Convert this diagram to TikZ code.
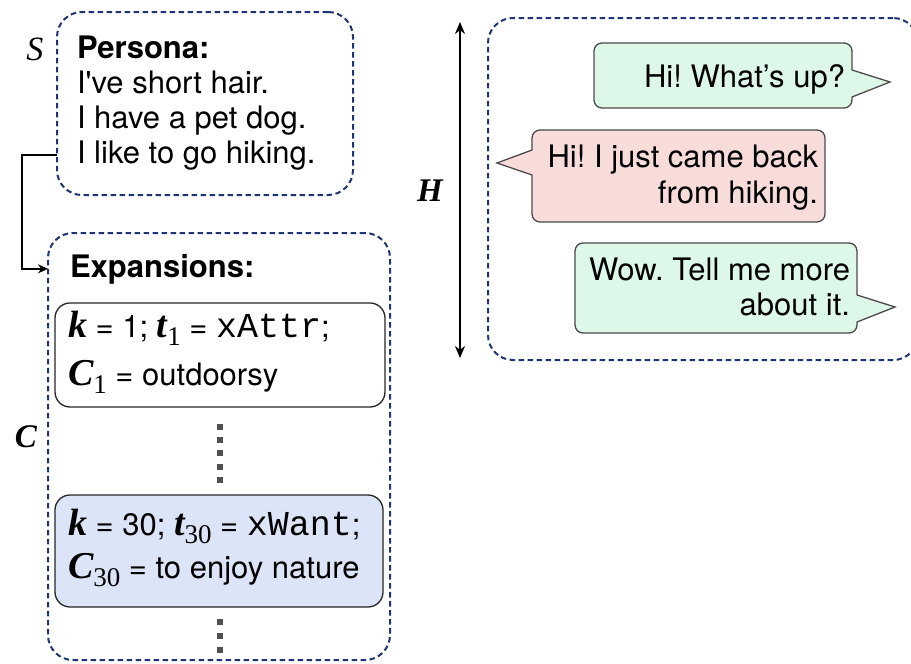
\documentclass[tikz,border=0pt]{standalone}
\usepackage{fontspec}
\setmainfont{TeX Gyre Heros}
\newfontfamily\serifit{Liberation Serif}
\newfontfamily\codefont{Liberation Mono}
\usetikzlibrary{arrows.meta}
\frenchspacing

\definecolor{navy}{HTML}{1F3474}
\definecolor{usergreen}{HTML}{DDF7E9}
\definecolor{botpink}{HTML}{F8DCDA}
\definecolor{expblue}{HTML}{DCE5F8}
\definecolor{dotgray}{HTML}{505050}
\definecolor{bubbleline}{HTML}{4A4A4A}

% italic serif symbols and their subscripts
\newcommand\mv[1]{{\serifit\bfseries\itshape\fontsize{38}{38}\selectfont #1}}
\newcommand\msub[1]{\raisebox{-8pt}{\serifit\fontsize{27}{27}\selectfont #1}}
\newcommand\code[1]{{\codefont\fontsize{35}{35}\selectfont #1}}

\tikzset{
  txt/.style={inner sep=0pt, outer sep=0pt, font=\fontsize{31}{35}\selectfont},
  lbl/.style={inner sep=0pt, font=\serifit\bfseries\itshape\fontsize{33}{33}\selectfont},
  groupbox/.style={draw=navy, line width=2pt, dash pattern=on 5.5pt off 3.5pt,
    rounded corners=25pt, inner sep=0pt, outer sep=0pt},
  expbox/.style={draw=black!85, line width=1.3pt, rounded corners=15pt,
    inner sep=0pt, outer sep=0pt},
  bubble/.style={draw=bubbleline, line width=1.3pt, rounded corners=8pt},
  conn/.style={line width=1.8pt, -{Stealth[length=10pt,width=9pt]}},
}

\begin{document}
\begin{tikzpicture}[x=1pt, y=-1pt]
\useasboundingbox (0,0) rectangle (911,664);
\begin{scope}
\clip (0,0) rectangle (911,664);

% ---- persona group ----
\node[groupbox, minimum width=296pt, minimum height=183pt] (persona) at (205,103.5) {};
\node[lbl, font=\serifit\itshape\fontsize{34}{34}\selectfont] (slbl) at (35,49) {S};
\node[txt, anchor=base west, font=\bfseries\fontsize{31}{35}\selectfont] (ptitle) at (77,58) {Persona:};
\node[txt, anchor=base west] (p1) at (77,93) {I\textquotesingle ve short hair.};
\node[txt, anchor=base west] (p2) at (77,128) {I have a pet dog.};
\node[txt, anchor=base west] (p3) at (77,163) {I like to go hiking.};

% ---- expansions group ----
\node[groupbox, minimum width=342pt, minimum height=427pt] (expgroup) at (219,446.5) {};
\node[lbl] (clbl) at (26,437) {C};
\node[txt, anchor=base west, font=\bfseries\fontsize{31}{35}\selectfont] (etitle) at (70,277) {Expansions:};

\node[expbox, fill=white, minimum width=330pt, minimum height=104pt] (e1) at (220,355) {};
\node[txt, anchor=base west] (e1a) at (68,337) {\mv{k} = 1; \mv{t}\msub{1} = \code{xAttr};};
\node[txt, anchor=base west] (e1b) at (68,385) {\mv{C}\msub{1} = outdoorsy};

\node[expbox, fill=expblue, minimum width=328pt, minimum height=112pt] (e2) at (219,551) {};
\node[txt, anchor=base west] (e2a) at (68,535) {\mv{k} = 30; \mv{t}\msub{30} = \code{xWant};};
\node[txt, anchor=base west] (e2b) at (68,578) {\mv{C}\msub{30} = to enjoy nature};

% vertical ellipses between and after the expansions
\foreach \yy in {427,440,453,467,480}
  \fill[dotgray] (217,\yy-3) rectangle ++(6,6);
\foreach \yy in {622,636,650}
  \fill[dotgray] (217,\yy-3) rectangle ++(6,6);

% persona line feeds the expansions
\coordinate (bend) at (22,0);
\draw[conn] (persona.west |- p3) -- (bend |- p3) -- (bend |- etitle) -- (expgroup.west |- etitle);

% ---- dialogue history ----
\node[groupbox, minimum width=430pt, minimum height=342pt] (hist) at (703,189) {};
\coordinate (htop) at (460,22);
\coordinate (hbot) at (460,358);
\draw[line width=1.8pt, {Stealth[length=12pt,width=10pt]}-{Stealth[length=12pt,width=10pt]}] (htop) -- (hbot);
\node[lbl] (hlbl) at (430,191) {H};

% bubble 1 (right tail)
\path[bubble, fill=usergreen] (594,43) rectangle (852,108);
\fill[usergreen] (850.5,70) -- (890,82) -- (850.5,97) -- cycle;
\draw[bubbleline, line width=1.3pt, line join=miter] (852,70) -- (890,82) -- (852,97);
\node[txt, anchor=base east] (b1) at (845,87) {Hi! What’s up?};

% bubble 2 (left tail)
\path[bubble, fill=botpink] (532,130) rectangle (825,222);
\fill[botpink] (533.5,150) -- (497,163) -- (533.5,175) -- cycle;
\draw[bubbleline, line width=1.3pt, line join=miter] (532,150) -- (497,163) -- (532,175);
\node[txt, anchor=base east] (b2a) at (818,167) {Hi! I just came back};
\node[txt, anchor=base east] (b2b) at (818,203) {from hiking.};

% bubble 3 (right tail)
\path[bubble, fill=usergreen] (575,243) rectangle (857,333);
\fill[usergreen] (855.5,295) -- (895,307) -- (855.5,322) -- cycle;
\draw[bubbleline, line width=1.3pt, line join=miter] (857,295) -- (895,307) -- (857,322);
\node[txt, anchor=base east] (b3a) at (850,280) {Wow. Tell me more};
\node[txt, anchor=base east] (b3b) at (850,315) {about it.};
\end{scope}
\end{tikzpicture}
\end{document}
